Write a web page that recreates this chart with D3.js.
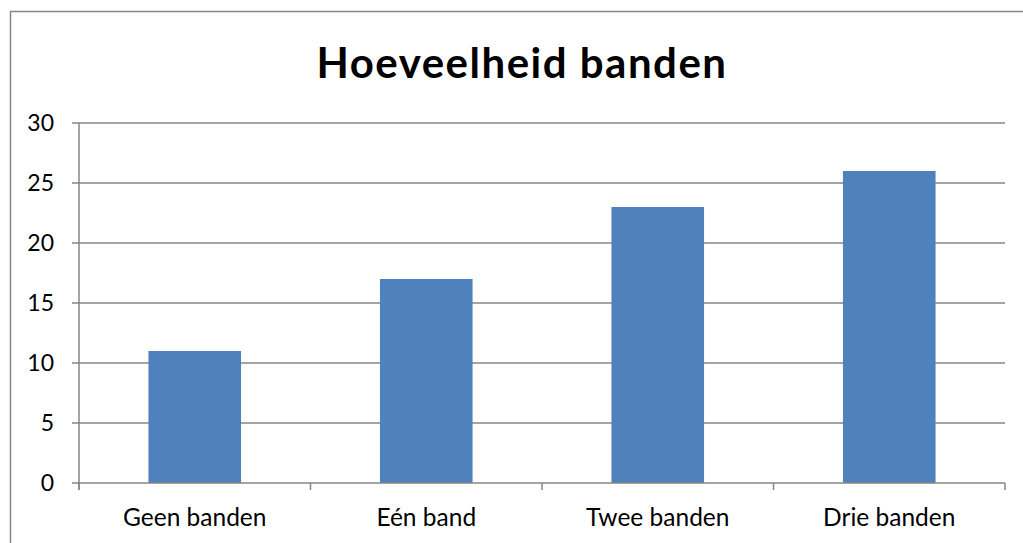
<!DOCTYPE html>
<html>
<head>
<meta charset="utf-8">
<script src="https://d3js.org/d3.v7.min.js"></script>
<style>
  html, body { margin: 0; padding: 0; background: #fff; }
  svg { display: block; }
  text { font-family: Lato, "Open Sans", sans-serif; fill: #000; }
</style>
</head>
<body>
<div id="chart"></div>
<script>
// Data
const categories = ["Geen banden", "Eén band", "Twee banden", "Drie banden"];
const values = [11, 17, 23, 26];
const yTicks = [0, 5, 10, 15, 20, 25, 30];
const title = "Hoeveelheid banden";

const width = 1023;
const height = 543;
const plot = { left: 79, right: 1005, top: 123, bottom: 483 };

const svg = d3.select("#chart")
    .append("svg")
    .attr("width", width)
    .attr("height", height);

// chart border
svg.append("rect")
    .attr("x", 10.5)
    .attr("y", 11.5)
    .attr("width", 1030)
    .attr("height", 560)
    .attr("fill", "none")
    .attr("stroke", "#868686")
    .attr("stroke-width", 1.5);

const x = d3.scaleBand()
    .domain(categories)
    .range([plot.left, plot.right]);

const y = d3.scaleLinear()
    .domain([0, 30])
    .range([plot.bottom, plot.top]);

// gridlines
svg.append("g")
    .selectAll("line")
    .data(yTicks.filter(d => d > 0))
    .enter()
    .append("line")
    .attr("x1", plot.left)
    .attr("x2", plot.right)
    .attr("y1", d => y(d))
    .attr("y2", d => y(d))
    .attr("stroke", "#868686")
    .attr("stroke-width", 1.5);

// bars
const barW = x.bandwidth() * 0.4;
svg.append("g")
    .selectAll("rect")
    .data(values)
    .enter()
    .append("rect")
    .attr("x", (d, i) => x(categories[i]) + (x.bandwidth() - barW) / 2)
    .attr("y", d => y(d))
    .attr("width", barW)
    .attr("height", d => y(0) - y(d))
    .attr("fill", "#4F81BD");

// y axis
const yAxis = svg.append("g");
yAxis.append("line")
    .attr("x1", plot.left).attr("x2", plot.left)
    .attr("y1", plot.top).attr("y2", plot.bottom + 7)
    .attr("stroke", "#868686").attr("stroke-width", 1.5);
yAxis.selectAll("line.tick")
    .data(yTicks)
    .enter()
    .append("line")
    .attr("class", "tick")
    .attr("x1", plot.left - 7).attr("x2", plot.left)
    .attr("y1", d => y(d)).attr("y2", d => y(d))
    .attr("stroke", "#868686").attr("stroke-width", 1.5);
yAxis.selectAll("text")
    .data(yTicks)
    .enter()
    .append("text")
    .attr("x", 54)
    .attr("y", d => y(d))
    .attr("dy", "0.36em")
    .attr("text-anchor", "end")
    .attr("font-size", "23px")
    .text(d => d);

// x axis
const xAxis = svg.append("g");
xAxis.append("line")
    .attr("x1", plot.left).attr("x2", plot.right)
    .attr("y1", plot.bottom).attr("y2", plot.bottom)
    .attr("stroke", "#868686").attr("stroke-width", 1.5);
const boundaries = categories.map(c => x(c)).concat([plot.right]);
xAxis.selectAll("line.tick")
    .data(boundaries)
    .enter()
    .append("line")
    .attr("class", "tick")
    .attr("x1", d => d).attr("x2", d => d)
    .attr("y1", plot.bottom).attr("y2", plot.bottom + 7)
    .attr("stroke", "#868686").attr("stroke-width", 1.5);
xAxis.selectAll("text")
    .data(categories)
    .enter()
    .append("text")
    .attr("x", d => x(d) + x.bandwidth() / 2)
    .attr("y", 526)
    .attr("text-anchor", "middle")
    .attr("font-size", "24.5px")
    .text(d => d);

// title
svg.append("text")
    .attr("x", 522)
    .attr("y", 78)
    .attr("text-anchor", "middle")
    .attr("font-size", "42px")
    .attr("font-weight", "bold")
    .attr("letter-spacing", "1.5px")
    .text(title);
</script>
</body>
</html>
